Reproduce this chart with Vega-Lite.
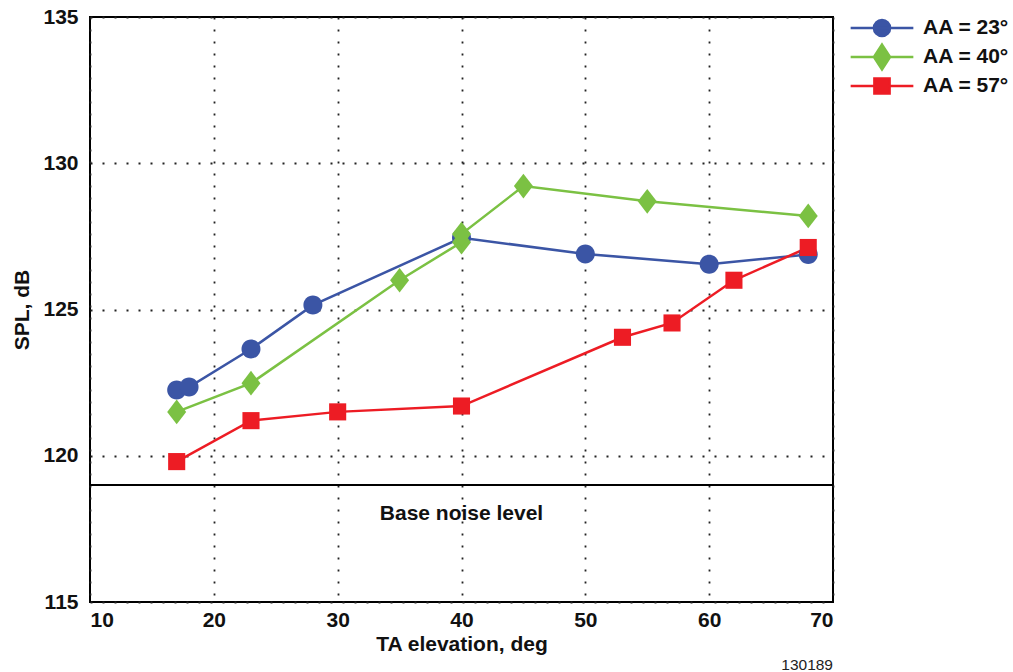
{
  "$schema": "https://vega.github.io/schema/vega-lite/v6.json",
  "width": 743,
  "height": 585,
  "autosize": {"type": "none"},
  "padding": {"left": 90, "top": 17, "right": 180, "bottom": 70},
  "background": "white",
  "config": {
    "font": "Liberation Sans",
    "view": {"stroke": "black", "strokeWidth": 2},
    "axis": {
      "domain": false, "ticks": false,
      "labelFont": "Liberation Sans", "labelFontSize": 21, "labelFontWeight": "bold", "labelColor": "#111",
      "titleFont": "Liberation Sans", "titleFontSize": 21, "titleFontWeight": "bold", "titleColor": "#111",
      "gridColor": "#222", "gridDash": [2, 10], "gridWidth": 1.8, "gridOpacity": 1
    },
    "legend": {
      "orient": "none", "legendX": 781, "legendY": 0, "title": null,
      "symbolSize": 361, "symbolOpacity": 1, "labelFont": "Liberation Sans", "labelFontSize": 21, "labelFontWeight": "bold", "labelColor": "#111",
      "labelOffset": 30, "rowPadding": -3, "symbolStrokeWidth": 2.5
    }
  },
  "title": {"text": "130189", "orient": "bottom", "anchor": "end", "frame": "group", "font": "Liberation Sans", "fontSize": 15.5, "fontWeight": "normal", "color": "#222", "offset": 4},
  "datasets": {
    "series": [
      {"series": "AA = 23°", "ta": 17, "spl": 122.25},
      {"series": "AA = 23°", "ta": 18, "spl": 122.35},
      {"series": "AA = 23°", "ta": 23, "spl": 123.65},
      {"series": "AA = 23°", "ta": 28, "spl": 125.15},
      {"series": "AA = 23°", "ta": 40, "spl": 127.45},
      {"series": "AA = 23°", "ta": 50, "spl": 126.9},
      {"series": "AA = 23°", "ta": 60, "spl": 126.55},
      {"series": "AA = 23°", "ta": 68, "spl": 126.88},
      {"series": "AA = 40°", "ta": 17, "spl": 121.5},
      {"series": "AA = 40°", "ta": 23, "spl": 122.48},
      {"series": "AA = 40°", "ta": 35, "spl": 126.0},
      {"series": "AA = 40°", "ta": 40, "spl": 127.3},
      {"series": "AA = 40°", "ta": 40, "spl": 127.58},
      {"series": "AA = 40°", "ta": 45, "spl": 129.22},
      {"series": "AA = 40°", "ta": 55, "spl": 128.7},
      {"series": "AA = 40°", "ta": 68, "spl": 128.2},
      {"series": "AA = 57°", "ta": 17, "spl": 119.8},
      {"series": "AA = 57°", "ta": 23, "spl": 121.2},
      {"series": "AA = 57°", "ta": 30, "spl": 121.5},
      {"series": "AA = 57°", "ta": 40, "spl": 121.7},
      {"series": "AA = 57°", "ta": 53, "spl": 124.05},
      {"series": "AA = 57°", "ta": 57, "spl": 124.54},
      {"series": "AA = 57°", "ta": 62, "spl": 126.0},
      {"series": "AA = 57°", "ta": 68, "spl": 127.12}
    ],
    "noise": [
      {"level": 119, "label": "Base noise level", "lx": 40, "ly": 118.0}
    ]
  },
  "layer": [
    {
      "data": {"name": "noise"},
      "mark": {"type": "rule", "color": "black", "strokeWidth": 2},
      "encoding": {
        "y": {"field": "level", "type": "quantitative", "scale": {"domain": [115, 135], "nice": false, "zero": false}}
      }
    },
    {
      "data": {"name": "noise"},
      "mark": {"type": "text", "font": "Liberation Sans", "fontSize": 21, "fontWeight": "bold", "color": "#111", "align": "center", "baseline": "middle"},
      "encoding": {
        "x": {"field": "lx", "type": "quantitative"},
        "y": {"field": "ly", "type": "quantitative"},
        "text": {"field": "label"}
      }
    },
    {
      "data": {"name": "series"},
      "transform": [{"filter": "datum.series === 'AA = 23°'"}],
      "mark": {"type": "line", "strokeWidth": 2.5, "color": "#3b55a5"},
      "encoding": {
        "x": {"field": "ta", "type": "quantitative"},
        "y": {"field": "spl", "type": "quantitative"}
      }
    },
    {
      "data": {"name": "series"},
      "transform": [{"filter": "datum.series === 'AA = 40°'"}],
      "mark": {"type": "line", "strokeWidth": 2.5, "color": "#7bc143"},
      "encoding": {
        "x": {"field": "ta", "type": "quantitative"},
        "y": {"field": "spl", "type": "quantitative"}
      }
    },
    {
      "data": {"name": "series"},
      "transform": [{"filter": "datum.series === 'AA = 57°'"}],
      "mark": {"type": "line", "strokeWidth": 2.5, "color": "#ed1c24"},
      "encoding": {
        "x": {"field": "ta", "type": "quantitative"},
        "y": {"field": "spl", "type": "quantitative"}
      }
    },
    {
      "data": {"name": "series"},
      "transform": [{"filter": "datum.series === 'AA = 23°'"}],
      "mark": {"type": "point", "filled": true, "opacity": 1, "size": 361, "strokeWidth": 0, "color": "#3b55a5", "shape": "M1,0A1,1,0,1,1,-1,0A1,1,0,1,1,1,0Z"},
      "encoding": {
        "x": {"field": "ta", "type": "quantitative", "title": "TA elevation, deg",
              "scale": {"domain": [10, 70], "nice": false, "zero": false},
              "axis": {"values": [10, 20, 30, 40, 50, 60, 70], "labelPadding": 7, "titlePadding": 3, "labelDx": 2}},
        "y": {"field": "spl", "type": "quantitative", "title": "SPL, dB",
              "scale": {"domain": [115, 135], "nice": false, "zero": false},
              "axis": {"values": [115, 120, 125, 130, 135], "labelPadding": 12, "titlePadding": 10}}
      }
    },
    {
      "data": {"name": "series"},
      "transform": [{"filter": "datum.series === 'AA = 40°'"}],
      "mark": {"type": "point", "filled": true, "opacity": 1, "size": 361, "strokeWidth": 0, "color": "#7bc143", "shape": "M0,-1.3L1,0L0,1.3L-1,0Z"},
      "encoding": {
        "x": {"field": "ta", "type": "quantitative"},
        "y": {"field": "spl", "type": "quantitative"}
      }
    },
    {
      "data": {"name": "series"},
      "transform": [{"filter": "datum.series === 'AA = 57°'"}],
      "mark": {"type": "point", "filled": true, "opacity": 1, "size": 361, "strokeWidth": 0, "color": "#ed1c24", "shape": "M-0.9,-0.9H0.9V0.9H-0.9Z"},
      "encoding": {
        "x": {"field": "ta", "type": "quantitative"},
        "y": {"field": "spl", "type": "quantitative"}
      }
    },
    {
      "data": {"name": "series"},
      "transform": [{"filter": "datum.ta < 0"}],
      "mark": {"type": "point", "filled": true, "opacity": 1, "size": 361, "strokeWidth": 2.5},
      "encoding": {
        "x": {"field": "ta", "type": "quantitative"},
        "y": {"field": "spl", "type": "quantitative"},
        "fill": {"field": "series", "type": "nominal", "title": null,
                 "scale": {"domain": ["AA = 23°", "AA = 40°", "AA = 57°"], "range": ["#3b55a5", "#7bc143", "#ed1c24"]}},
        "stroke": {"field": "series", "type": "nominal", "title": null,
                   "scale": {"domain": ["AA = 23°", "AA = 40°", "AA = 57°"], "range": ["#3b55a5", "#7bc143", "#ed1c24"]}},
        "shape": {"field": "series", "type": "nominal", "title": null,
                  "scale": {"domain": ["AA = 23°", "AA = 40°", "AA = 57°"],
                            "range": ["M-3.3,0H3.3M0.85,0A0.85,0.85,0,1,1,-0.85,0A0.85,0.85,0,1,1,0.85,0Z", "M-3.3,0H3.3M0,-1.3L0.85,0L0,1.3L-0.85,0Z", "M-3.3,0H3.3M-0.8,-0.8H0.8V0.8H-0.8Z"]}}
      }
    }
  ]
}
